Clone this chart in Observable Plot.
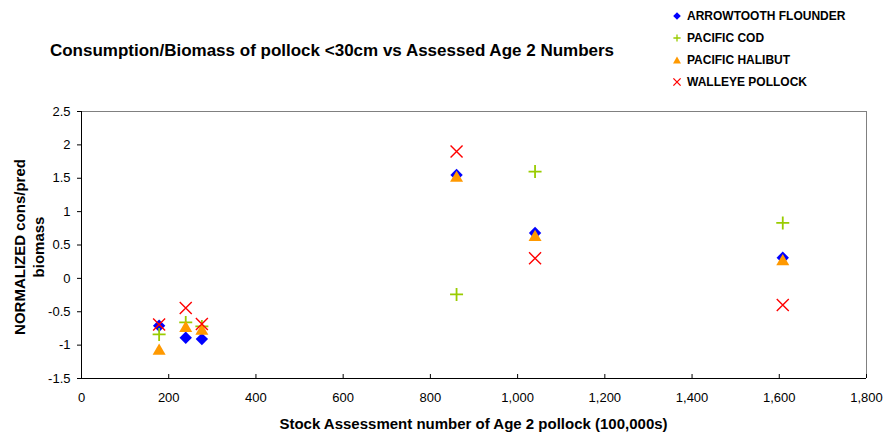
<!DOCTYPE html>
<html>
<head>
<meta charset="utf-8">
<script src="https://cdn.jsdelivr.net/npm/d3@7"></script>
<script src="https://cdn.jsdelivr.net/npm/@observablehq/plot@0.6"></script>
<style>
  html, body { margin: 0; padding: 0; background: #fff; }
  #wrap { position: relative; width: 886px; height: 437px; font-family: "Liberation Sans", Arial, sans-serif; color: #000; }
  #wrap svg { position: absolute; left: 0; top: 0; }
  .title { position: absolute; left: 32px; width: 600px; top: 41px; text-align: center; font-weight: bold; font-size: 17px; white-space: nowrap; }
  .xlabel { position: absolute; left: 81px; width: 785px; top: 415px; text-align: center; font-weight: bold; font-size: 15px; white-space: nowrap; }
  .ylabel { position: absolute; left: 29px; top: 247px; width: 300px; margin-left: -150px; text-align: center; font-weight: bold; font-size: 15px; line-height: 19px; transform: translateY(-50%) rotate(-90deg); white-space: nowrap; }
  .legend { position: absolute; left: 672px; top: 5px; font-weight: bold; font-size: 12px; }
  .legend .row { height: 22px; display: flex; align-items: center; white-space: nowrap; }
  .legend svg { position: static !important; margin-right: 5px; }
</style>
</head>
<body>
<div id="wrap"></div>
<script>
// ---- data ----
const xValues = [178, 239, 276, 860, 1040, 1608];
const seriesNames = ["ARROWTOOTH FLOUNDER", "PACIFIC COD", "PACIFIC HALIBUT", "WALLEYE POLLOCK"];
const arrowtooth = [-0.71, -0.89, -0.91, 1.55, 0.68, 0.31];
const pacificCod = [-0.84, -0.66, -0.72, -0.24, 1.60, 0.83];
const pacificHalibut = [-1.06, -0.72, -0.76, 1.53, 0.645, 0.28];
const walleyePollock = [-0.69, -0.445, -0.685, 1.90, 0.30, -0.40];
const xTicks = [0, 200, 400, 600, 800, 1000, 1200, 1400, 1600, 1800];
const yTicks = [-1.5, -1, -0.5, 0, 0.5, 1, 1.5, 2, 2.5];
const titleText = "Consumption/Biomass of pollock <30cm vs Assessed Age 2 Numbers";
const xLabelText = "Stock Assessment number of Age 2 pollock (100,000s)";
const yLabelLines = ["NORMALIZED cons/pred", "biomass"];

// ---- symbols (Excel-like) ----
const diamondSym = { draw(ctx, size) { const r = Math.sqrt(size / Math.PI); ctx.moveTo(0, -r); ctx.lineTo(r, 0); ctx.lineTo(0, r); ctx.lineTo(-r, 0); ctx.closePath(); } };
const triangleSym = { draw(ctx, size) { const r = Math.sqrt(size / Math.PI); const h = r * 0.9; ctx.moveTo(0, -h); ctx.lineTo(r * 1.05, h); ctx.lineTo(-r * 1.05, h); ctx.closePath(); } };
const plusSym = { draw(ctx, size) { const r = Math.sqrt(size / Math.PI); ctx.moveTo(-r, 0); ctx.lineTo(r, 0); ctx.moveTo(0, -r); ctx.lineTo(0, r); } };
const timesSym = { draw(ctx, size) { const r = Math.sqrt(size / Math.PI); ctx.moveTo(-r, -r); ctx.lineTo(r, r); ctx.moveTo(r, -r); ctx.lineTo(-r, r); } };

const series = [
  { name: seriesNames[0], values: arrowtooth, symbol: diamondSym, fill: "#0000FF", stroke: "none", r: 6.2, sw: 0 },
  { name: seriesNames[1], values: pacificCod, symbol: plusSym, fill: "none", stroke: "#99CC00", r: 6.5, sw: 1.8 },
  { name: seriesNames[2], values: pacificHalibut, symbol: triangleSym, fill: "#FF9900", stroke: "none", r: 6.2, sw: 0 },
  { name: seriesNames[3], values: walleyePollock, symbol: timesSym, fill: "none", stroke: "#FF0000", r: 6, sw: 1.4 }
];

const dotMarks = series.map(s => Plot.dot(
  xValues.map((x, i) => ({ x, y: s.values[i] })),
  { x: "x", y: "y", symbol: s.symbol, r: s.r, fill: s.fill, stroke: s.stroke, strokeWidth: s.sw }
));

const chart = Plot.plot({
  width: 886,
  height: 437,
  marginLeft: 81,
  marginRight: 20,
  marginTop: 111,
  marginBottom: 59,
  x: { domain: [0, 1800] },
  y: { domain: [-1.5, 2.5] },
  style: { fontFamily: "'Liberation Sans', Arial, sans-serif", fontSize: "13px", background: "transparent", color: "#000" },
  marks: [
    Plot.ruleY([2.5], { stroke: "#808080" }),
    Plot.ruleX([1800], { stroke: "#808080" }),
    Plot.axisY({ ticks: yTicks, tickSize: 4, tickPadding: 7, tickFormat: d => String(d), label: null }),
    Plot.axisX({ ticks: xTicks, tickSize: 0, tickPadding: 14, tickFormat: d3.format(","), label: null }),
    Plot.tickX(xTicks, { x: d => d, insetTop: 263, stroke: "#000" }),
    Plot.ruleX([0], { stroke: "#000" }),
    Plot.ruleY([-1.5], { stroke: "#000" }),
    ...dotMarks
  ]
});

const wrap = document.getElementById("wrap");
wrap.appendChild(chart);

const title = document.createElement("div");
title.className = "title"; title.textContent = titleText; wrap.appendChild(title);

const xl = document.createElement("div");
xl.className = "xlabel"; xl.textContent = xLabelText; wrap.appendChild(xl);

const yl = document.createElement("div");
yl.className = "ylabel"; yl.innerHTML = yLabelLines.map(t => `<div>${t}</div>`).join(""); wrap.appendChild(yl);

// legend
const legend = document.createElement("div");
legend.className = "legend";
const ns = "http://www.w3.org/2000/svg";
series.forEach(s => {
  const row = document.createElement("div"); row.className = "row";
  const svg = document.createElementNS(ns, "svg");
  svg.setAttribute("width", 10); svg.setAttribute("height", 10);
  const p = d3.path();
  const mini = s.symbol === plusSym || s.symbol === timesSym ? 3.6 : 3.8;
  s.symbol.draw(p, mini * mini * Math.PI);
  const path = document.createElementNS(ns, "path");
  path.setAttribute("d", p.toString());
  path.setAttribute("transform", "translate(5,5)");
  path.setAttribute("fill", s.fill);
  path.setAttribute("stroke", s.stroke);
  path.setAttribute("stroke-width", s.sw ? 1.3 : 0);
  svg.appendChild(path);
  row.appendChild(svg);
  const t = document.createElement("span"); t.textContent = s.name; row.appendChild(t);
  legend.appendChild(row);
});
wrap.appendChild(legend);
</script>
</body>
</html>
